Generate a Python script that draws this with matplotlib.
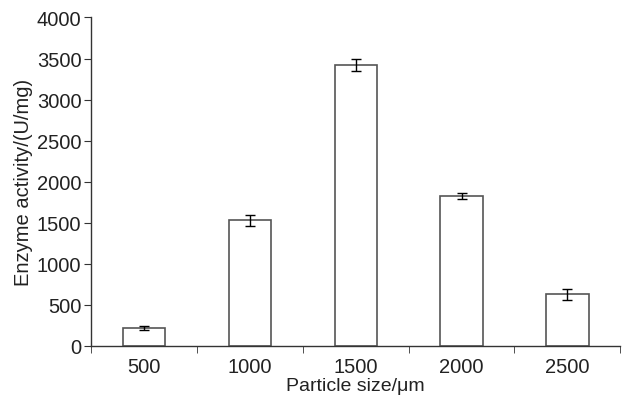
import numpy as np
import matplotlib.pyplot as plt
from matplotlib.ticker import FixedLocator

# particle size categories and measured enzyme activity
sizes = ['500', '1000', '1500', '2000', '2500']
activity = [220, 1530, 3425, 1828, 630]
errors = [25, 67, 72, 35, 67]

plt.rcParams['font.family'] = ['Liberation Sans', 'DejaVu Sans']

fig = plt.figure(figsize=(6.24, 4.02), dpi=100)
ax = fig.add_axes([0.146, 0.137, 0.848, 0.817])

x = np.arange(len(sizes))
ax.bar(x, activity, width=0.4, color='white', edgecolor='#555555', linewidth=1.2)
ax.errorbar(x, activity, yerr=errors, fmt='none', ecolor='black',
            elinewidth=1.0, capsize=3.5, capthick=1.0)

ax.set_xlim(-0.5, len(sizes) - 0.5)
ax.set_ylim(0, 4000)
ax.set_yticks(np.arange(0, 4001, 500))
ax.set_xticks(x)
ax.set_xticklabels(sizes)
# tick marks sit between the bars
ax.xaxis.set_minor_locator(FixedLocator(np.arange(-0.5, len(sizes), 1)))
ax.tick_params(axis='x', which='major', length=0, pad=8, labelsize=14.5, colors='#222222')
ax.tick_params(axis='x', which='minor', length=5, direction='out', color='#333333')
ax.tick_params(axis='y', length=5, direction='out', labelsize=14.5, color='#333333',
               labelcolor='#222222', pad=2)

for s in ['top', 'right']:
    ax.spines[s].set_visible(False)
for s in ['left', 'bottom']:
    ax.spines[s].set_color('#333333')
    ax.spines[s].set_linewidth(1.0)

ax.set_xlabel('Particle size/\u03bcm', fontsize=14, color='#222222', labelpad=1)
ax.set_ylabel('Enzyme activity/(U/mg)', fontsize=14.5, color='#222222', labelpad=3)

fig.savefig('out.png', dpi=100)
